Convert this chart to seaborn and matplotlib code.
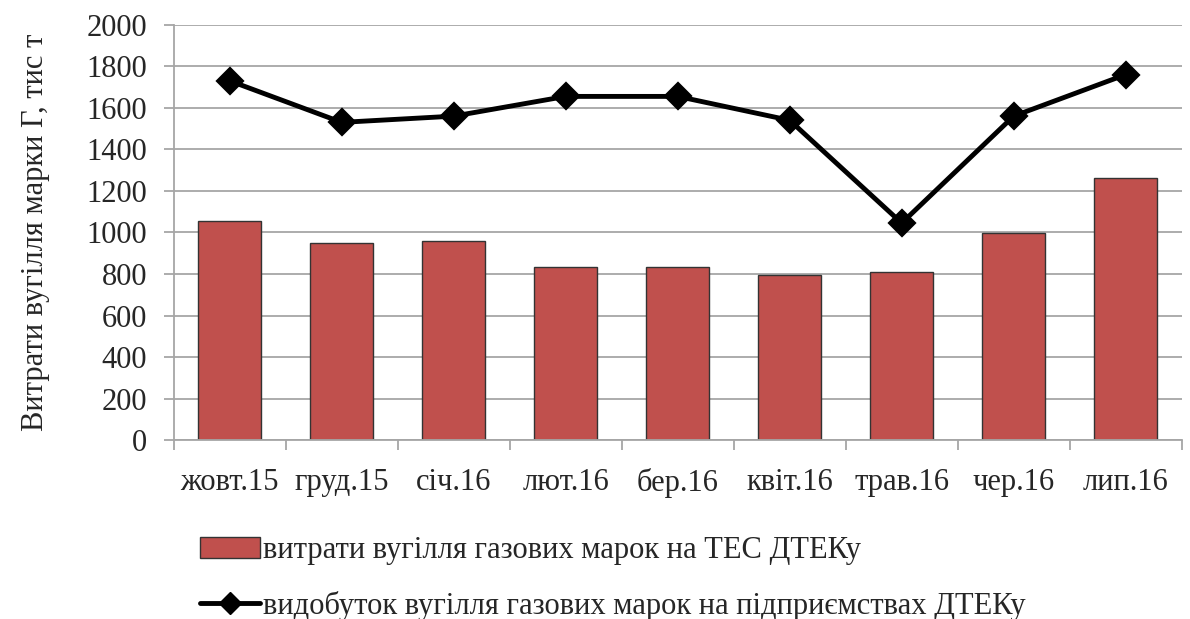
import numpy as np
import matplotlib
matplotlib.use('Agg')
import matplotlib.pyplot as plt
import seaborn as sns
from matplotlib.patches import Patch
from matplotlib.lines import Line2D

months = ['жовт.15', 'груд.15', 'січ.16', 'лют.16', 'бер.16', 'квіт.16', 'трав.16', 'чер.16', 'лип.16']
consumption = [1055, 950, 960, 835, 835, 795, 810, 995, 1260]
production = [1730, 1530, 1560, 1655, 1655, 1540, 1045, 1560, 1760]

bar_label = 'витрати вугілля газових марок на ТЕС ДТЕКу'
line_label = 'видобуток вугілля газових марок на підприємствах ДТЕКу'
y_label = 'Витрати вугілля марки Г, тис т'

sns.set_style('white')
plt.rcParams['font.family'] = ['Liberation Serif', 'DejaVu Serif']
fs = 22

fig = plt.figure(figsize=(11.9, 6.19), dpi=100)
ax = fig.add_axes([0.146, 0.289, 0.847, 0.671])

bar_color = '#C0504D'
sns.barplot(x=months, y=consumption, color=bar_color, width=0.56,
            edgecolor='#333333', linewidth=1, saturation=1, ax=ax, zorder=2)
sns.pointplot(x=months, y=production, color='black', markers='D', linestyles='-',
              markersize=12, linewidth=3.5, errorbar=None, ax=ax, zorder=3)

ax.set_ylim(0, 2000)
ax.set_xlim(-0.5, len(months) - 0.5)
ax.set_yticks(np.arange(0, 2001, 200))
ax.yaxis.grid(True, color='#A6A6A6', linewidth=1.3, zorder=0)
ax.set_axisbelow(True)

for s in ['top', 'right']:
    ax.spines[s].set_visible(False)
for s in ['left', 'bottom']:
    ax.spines[s].set_color('#A6A6A6')
    ax.spines[s].set_linewidth(1.3)

ax.tick_params(which='both', left=True, bottom=True)
ax.tick_params(axis='y', which='major', direction='out', length=7, width=1.3,
               color='#A6A6A6', pad=12, labelsize=fs)
ax.tick_params(axis='x', which='major', length=0, pad=20, labelsize=fs)
ax.set_xticks(np.arange(-0.5, len(months) + 0.5, 1), minor=True)
ax.tick_params(axis='x', which='minor', direction='out', length=7, width=1.3, color='#A6A6A6')

ax.set_xlabel('')
ax.set_ylabel(y_label, fontsize=fs, labelpad=26)

handles = [Patch(facecolor=bar_color, edgecolor='#333333', linewidth=1),
           Line2D([0], [0], color='black', linewidth=3.5, marker='D', markersize=11)]
fig.legend(handles, [bar_label, line_label], loc='upper left',
           bbox_to_anchor=(200 / 1190, 0.134), frameon=False, fontsize=fs,
           borderpad=0, borderaxespad=0, handlelength=1.95, handletextpad=0.1,
           labelspacing=0.85)

fig.savefig('out.png', dpi=100)
